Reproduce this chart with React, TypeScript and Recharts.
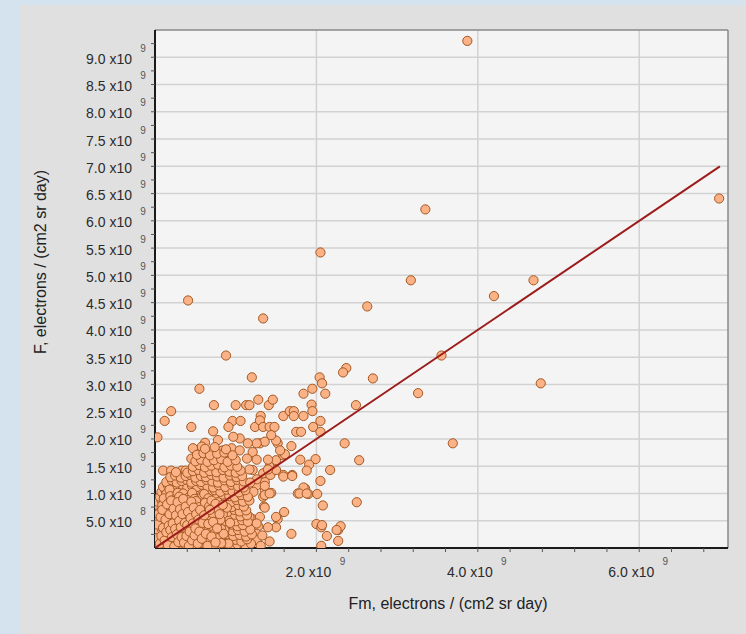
import React from 'react';
import { ScatterChart, Scatter, XAxis, YAxis, CartesianGrid, ReferenceLine } from 'recharts';

// Values are in units of 10^9 electrons / (cm2 sr day)
const OUTLIERS: [number, number][] = [
  [3.87, 9.30], [3.35, 6.21], [2.05, 5.42], [6.99, 6.41], [0.41, 4.54], [3.17, 4.91],
  [4.69, 4.91], [2.63, 4.43], [1.34, 4.21], [4.20, 4.62], [3.55, 3.53], [0.88, 3.53],
  [4.78, 3.02], [3.69, 1.92], [3.26, 2.84], [2.70, 3.11], [2.37, 3.30], [2.33, 3.22],
  [2.49, 2.62], [2.35, 1.92], [2.53, 1.61], [2.50, 0.84], [2.17, 1.43],
];

const MID_SCATTER: [number, number][] = [
  [0.55, 2.92], [0.20, 2.51], [0.12, 2.33], [0.03, 2.03], [0.45, 2.22], [0.73, 2.62], [0.72, 2.14],
  [0.62, 1.93], [0.58, 1.86], [0.47, 1.83], [0.45, 1.64], [0.10, 1.42], [0.20, 1.42], [0.33, 1.42],
  [0.38, 1.42], [1.20, 3.13], [1.00, 2.62], [1.13, 2.62], [1.17, 2.62], [1.28, 2.72], [1.41, 2.62],
  [1.46, 2.72], [1.84, 2.83], [1.95, 2.92], [2.04, 3.13], [2.07, 3.02], [2.11, 2.83], [1.94, 2.63],
  [1.95, 2.51], [1.59, 2.42], [1.67, 2.51], [1.72, 2.51], [1.72, 2.42], [1.84, 2.42], [1.31, 2.42],
  [0.96, 2.33], [1.06, 2.33], [0.91, 2.22], [1.24, 2.22], [1.30, 2.34], [1.34, 2.22], [1.42, 2.22],
  [1.48, 2.22], [1.96, 2.22], [2.05, 2.33], [2.05, 1.23], [2.08, 0.78], [1.99, 1.63], [1.91, 1.53],
  [1.88, 1.42], [1.80, 1.62], [1.77, 1.00], [1.86, 1.09], [1.90, 0.99], [2.01, 0.99], [2.00, 0.44],
  [2.06, 0.38], [2.13, 0.22], [2.27, 0.33], [2.30, 0.40], [2.27, 0.13], [2.06, 0.04], [1.69, 0.26],
  [1.60, 0.66], [1.52, 0.53], [1.50, 0.38], [1.40, 0.38], [1.42, 0.12], [1.28, 0.40], [1.21, 0.53],
  [1.26, 0.26], [1.17, 0.10], [1.09, 0.27], [1.30, 0.57], [1.35, 0.76], [1.34, 0.94], [1.36, 1.05],
  [1.44, 1.01], [1.36, 1.21], [1.34, 1.37], [1.43, 1.34], [1.59, 1.34], [1.70, 1.34], [1.42, 1.49],
  [1.50, 1.61], [1.59, 1.70], [1.69, 1.87], [1.52, 1.92], [1.75, 2.13], [1.81, 2.13], [2.05, 2.13],
  [1.30, 1.92], [1.21, 1.76], [1.21, 1.43], [1.26, 1.15], [1.22, 1.03], [1.14, 1.64], [1.26, 1.62],
  [1.40, 1.62], [1.61, 1.72], [1.50, 1.97], [1.44, 2.07], [1.36, 1.95], [1.26, 1.92], [1.15, 1.92],
  [1.05, 2.01], [0.97, 2.04], [0.95, 1.83], [1.05, 1.79], [0.84, 1.79], [0.78, 1.98], [1.55, 1.79],
  [0.95, 1.66], [1.50, 1.43], [1.40, 1.44], [1.17, 1.44], [1.26, 1.26], [1.84, 1.11], [1.79, 1.00],
  [1.88, 1.00], [1.59, 1.31], [1.70, 1.32], [2.25, 0.33], [2.07, 0.42], [1.50, 0.57], [1.26, 0.15],
  [1.17, 0.57], [1.26, 0.45], [1.36, 0.74], [1.36, 0.97], [1.42, 1.00], [1.36, 1.14],
];

const CORE_CLUSTER: [number, number][] = [
  [0.03, 0.04], [0.08, 0.07], [0.12, 0.03], [0.17, 0.06], [0.22, 0.08], [0.26, 0.04], [0.31, 0.07], [0.35, 0.03],
  [0.40, 0.06], [0.45, 0.09], [0.50, 0.04], [0.56, 0.07], [0.61, 0.05], [0.67, 0.08], [0.74, 0.03], [0.80, 0.06],
  [0.87, 0.09], [0.94, 0.04], [1.02, 0.07], [1.12, 0.05], [1.19, 0.08], [1.31, 0.04],
  [0.02, 0.13], [0.06, 0.16], [0.11, 0.12], [0.15, 0.15], [0.20, 0.17], [0.24, 0.12], [0.29, 0.15], [0.34, 0.13],
  [0.38, 0.17], [0.43, 0.14], [0.49, 0.12], [0.54, 0.16], [0.60, 0.13], [0.65, 0.17], [0.71, 0.14], [0.78, 0.12],
  [0.85, 0.16], [0.92, 0.13], [1.00, 0.15], [1.07, 0.12], [1.14, 0.16],
  [0.04, 0.22], [0.09, 0.25], [0.13, 0.21], [0.18, 0.24], [0.23, 0.26], [0.27, 0.21], [0.32, 0.24], [0.37, 0.22],
  [0.42, 0.26], [0.47, 0.23], [0.52, 0.21], [0.58, 0.25], [0.63, 0.22], [0.69, 0.26], [0.76, 0.23], [0.83, 0.21],
  [0.90, 0.25], [0.97, 0.22], [1.05, 0.24], [1.13, 0.21], [1.20, 0.25], [1.33, 0.23],
  [0.03, 0.31], [0.07, 0.34], [0.12, 0.30], [0.16, 0.33], [0.21, 0.35], [0.26, 0.30], [0.30, 0.33], [0.35, 0.31],
  [0.40, 0.35], [0.45, 0.32], [0.51, 0.30], [0.56, 0.34], [0.62, 0.31], [0.68, 0.35], [0.74, 0.32], [0.81, 0.30],
  [0.88, 0.34], [0.96, 0.31], [1.03, 0.33], [1.11, 0.30], [1.18, 0.34],
  [0.05, 0.40], [0.10, 0.43], [0.14, 0.39], [0.19, 0.42], [0.24, 0.44], [0.28, 0.39], [0.33, 0.42], [0.38, 0.40],
  [0.44, 0.44], [0.49, 0.41], [0.55, 0.39], [0.60, 0.43], [0.66, 0.40], [0.73, 0.44], [0.80, 0.41], [0.87, 0.39],
  [0.95, 0.43], [1.02, 0.40], [1.09, 0.42],
  [0.02, 0.49], [0.07, 0.52], [0.12, 0.48], [0.17, 0.51], [0.22, 0.53], [0.27, 0.48], [0.32, 0.51], [0.37, 0.49],
  [0.42, 0.53], [0.48, 0.50], [0.53, 0.48], [0.59, 0.52], [0.65, 0.49], [0.71, 0.53], [0.78, 0.50], [0.86, 0.48],
  [0.93, 0.52], [1.00, 0.49], [1.08, 0.51], [1.15, 0.48],
  [0.04, 0.58], [0.09, 0.61], [0.14, 0.57], [0.19, 0.60], [0.25, 0.62], [0.30, 0.57], [0.35, 0.60], [0.40, 0.58],
  [0.46, 0.62], [0.51, 0.59], [0.57, 0.57], [0.63, 0.61], [0.70, 0.58], [0.77, 0.62], [0.84, 0.59], [0.91, 0.57],
  [0.99, 0.61], [1.06, 0.58], [1.14, 0.60],
  [0.03, 0.67], [0.08, 0.70], [0.13, 0.66], [0.18, 0.69], [0.23, 0.71], [0.28, 0.66], [0.34, 0.69], [0.39, 0.67],
  [0.45, 0.71], [0.50, 0.68], [0.56, 0.66], [0.62, 0.70], [0.68, 0.67], [0.75, 0.71], [0.82, 0.68], [0.90, 0.66],
  [0.98, 0.70], [1.05, 0.67], [1.13, 0.69],
  [0.05, 0.76], [0.10, 0.79], [0.16, 0.75], [0.21, 0.78], [0.26, 0.80], [0.32, 0.75], [0.37, 0.78], [0.43, 0.76],
  [0.48, 0.80], [0.54, 0.77], [0.60, 0.75], [0.67, 0.79], [0.73, 0.76], [0.80, 0.80], [0.88, 0.77], [0.95, 0.75],
  [1.03, 0.79], [1.10, 0.76],
  [0.03, 0.85], [0.08, 0.88], [0.14, 0.84], [0.19, 0.87], [0.25, 0.89], [0.30, 0.84], [0.36, 0.87], [0.41, 0.85],
  [0.47, 0.89], [0.53, 0.86], [0.59, 0.84], [0.65, 0.88], [0.72, 0.85], [0.79, 0.89], [0.86, 0.86], [0.94, 0.84],
  [1.01, 0.88], [1.09, 0.85], [1.17, 0.87],
  [0.06, 0.94], [0.11, 0.97], [0.17, 0.93], [0.22, 0.96], [0.28, 0.98], [0.33, 0.93], [0.39, 0.96], [0.45, 0.94],
  [0.51, 0.98], [0.57, 0.95], [0.63, 0.93], [0.70, 0.97], [0.77, 0.94], [0.84, 0.98], [0.92, 0.95], [0.99, 0.93],
  [1.07, 0.97], [1.15, 0.94],
  [0.08, 1.03], [0.13, 1.06], [0.19, 1.02], [0.25, 1.05], [0.31, 1.07], [0.36, 1.02], [0.42, 1.05], [0.48, 1.03],
  [0.54, 1.07], [0.60, 1.04], [0.67, 1.02], [0.74, 1.06], [0.81, 1.03], [0.89, 1.07], [0.96, 1.04], [1.04, 1.02],
  [1.12, 1.06],
  [0.10, 1.12], [0.16, 1.15], [0.22, 1.11], [0.28, 1.14], [0.34, 1.16], [0.40, 1.11], [0.46, 1.14], [0.52, 1.12],
  [0.58, 1.16], [0.65, 1.13], [0.72, 1.11], [0.79, 1.15], [0.87, 1.12], [0.95, 1.16], [1.03, 1.13], [1.10, 1.11],
  [0.14, 1.21], [0.21, 1.24], [0.27, 1.20], [0.33, 1.23], [0.39, 1.25], [0.45, 1.20], [0.51, 1.23], [0.57, 1.21],
  [0.64, 1.25], [0.71, 1.22], [0.78, 1.20], [0.86, 1.24], [0.94, 1.21], [1.02, 1.25], [1.10, 1.22], [1.18, 1.20],
  [0.19, 1.30], [0.25, 1.33], [0.32, 1.29], [0.38, 1.32], [0.44, 1.34], [0.50, 1.29], [0.57, 1.32], [0.63, 1.30],
  [0.70, 1.34], [0.77, 1.31], [0.85, 1.29], [0.93, 1.33], [1.01, 1.30], [1.08, 1.32],
  [0.26, 1.39], [0.40, 1.38], [0.47, 1.41], [0.54, 1.43], [0.61, 1.38], [0.68, 1.41], [0.76, 1.39], [0.84, 1.43],
  [0.92, 1.40], [1.00, 1.38], [1.06, 1.42],
  [0.47, 1.49], [0.55, 1.52], [0.62, 1.48], [0.70, 1.51], [0.78, 1.53], [0.86, 1.48], [0.94, 1.51], [1.02, 1.49],
  [0.50, 1.59], [0.57, 1.62], [0.65, 1.58], [0.73, 1.61], [0.82, 1.63], [0.90, 1.58], [1.00, 1.61],
  [0.52, 1.71], [0.60, 1.74], [0.68, 1.70], [0.77, 1.73], [0.86, 1.75], [0.96, 1.70],
  [0.62, 1.82], [0.74, 1.85], [0.88, 1.81],
];

const ORIGIN_DENSE: [number, number][] = [
  [0.01, 0.02], [0.04, 0.10], [0.07, 0.02], [0.10, 0.19], [0.13, 0.08], [0.16, 0.27], [0.19, 0.11], [0.21, 0.37],
  [0.24, 0.18], [0.27, 0.46], [0.29, 0.27], [0.33, 0.55], [0.36, 0.19], [0.39, 0.64], [0.41, 0.28], [0.44, 0.73],
  [0.47, 0.36], [0.50, 0.82], [0.53, 0.45], [0.56, 0.91], [0.58, 0.25], [0.61, 0.99], [0.64, 0.54], [0.02, 0.28],
  [0.05, 0.47], [0.08, 0.63], [0.11, 0.81], [0.14, 0.99], [0.06, 0.37], [0.09, 0.55], [0.12, 0.72], [0.15, 0.90],
  [0.18, 1.07], [0.32, 0.08], [0.44, 0.03], [0.52, 0.11], [0.69, 0.36], [0.72, 0.22], [0.79, 0.57], [0.83, 0.44],
  [0.02, 0.07], [0.05, 0.19], [0.07, 0.29], [0.10, 0.06], [0.12, 0.39], [0.14, 0.18], [0.16, 0.47], [0.18, 0.03],
  [0.20, 0.29], [0.22, 0.57], [0.25, 0.09], [0.27, 0.36], [0.29, 0.64], [0.31, 0.19], [0.34, 0.47], [0.36, 0.73],
  [0.38, 0.27], [0.40, 0.52], [0.43, 0.10], [0.45, 0.61], [0.47, 0.19], [0.50, 0.71], [0.52, 0.31], [0.55, 0.82],
  [0.57, 0.44], [0.60, 0.08], [0.62, 0.64], [0.64, 0.36], [0.66, 0.91], [0.69, 0.48], [0.71, 0.12], [0.73, 0.67],
  [0.76, 0.30], [0.78, 0.84], [0.81, 0.19], [0.84, 0.62], [0.86, 0.33], [0.89, 0.74], [0.91, 0.08], [0.93, 0.46],
  [0.04, 0.53], [0.06, 0.66], [0.09, 0.78], [0.11, 0.91], [0.13, 0.60], [0.15, 0.71], [0.17, 0.83], [0.19, 0.95],
  [0.21, 0.68], [0.23, 0.80], [0.26, 0.92], [0.28, 1.01], [0.30, 0.77], [0.33, 0.88], [0.35, 1.00], [0.37, 0.84],
  [0.42, 0.93], [0.46, 1.01], [0.49, 0.90], [0.03, 0.15], [0.06, 0.25], [0.08, 0.44], [0.11, 0.26], [0.15, 0.36],
  [0.18, 0.16], [0.23, 0.15], [0.34, 0.36], [0.41, 0.44], [0.46, 0.27], [0.54, 0.23], [0.59, 0.35], [0.67, 0.28],
  [0.74, 0.50], [0.82, 0.35],
];

const ORIGIN_DENSE_2: [number, number][] = [
  [0.01, 0.11], [0.03, 0.20], [0.04, 0.33], [0.05, 0.05], [0.07, 0.41], [0.08, 0.14], [0.09, 0.33], [0.10, 0.51],
  [0.11, 0.03], [0.12, 0.22], [0.13, 0.45], [0.14, 0.65], [0.15, 0.10], [0.16, 0.39], [0.17, 0.58], [0.18, 0.78],
  [0.19, 0.24], [0.20, 0.46], [0.21, 0.06], [0.22, 0.66], [0.23, 0.33], [0.24, 0.86], [0.25, 0.52], [0.26, 0.14],
  [0.27, 0.74], [0.28, 0.22], [0.29, 0.45], [0.30, 0.94], [0.31, 0.62], [0.32, 0.30], [0.33, 0.13], [0.34, 0.79],
  [0.35, 0.40], [0.36, 0.55], [0.37, 0.07], [0.38, 0.70], [0.39, 0.34], [0.40, 0.88], [0.41, 0.17], [0.42, 0.60],
  [0.43, 0.38], [0.44, 0.80], [0.45, 0.22], [0.46, 0.49], [0.47, 0.68], [0.48, 0.05], [0.49, 0.31], [0.50, 0.57],
  [0.51, 0.86], [0.52, 0.16], [0.53, 0.64], [0.54, 0.40], [0.55, 0.75], [0.56, 0.28], [0.57, 0.51], [0.58, 0.09],
  [0.59, 0.70], [0.60, 0.41], [0.61, 0.20], [0.62, 0.83], [0.63, 0.47], [0.64, 0.11], [0.65, 0.63], [0.66, 0.32],
  [0.67, 0.76], [0.68, 0.16], [0.69, 0.55], [0.70, 0.87], [0.71, 0.40], [0.72, 0.63], [0.73, 0.05], [0.74, 0.27],
  [0.75, 0.81], [0.77, 0.45], [0.78, 0.18], [0.79, 0.69], [0.81, 0.52], [0.82, 0.09], [0.84, 0.79], [0.85, 0.26],
];

const ORIGIN_DENSE_3: [number, number][] = [
  [0.02, 0.18], [0.03, 0.43], [0.04, 0.62], [0.06, 0.08], [0.07, 0.57], [0.08, 0.22], [0.09, 0.70], [0.10, 0.37],
  [0.12, 0.14], [0.13, 0.52], [0.14, 0.29], [0.15, 0.80], [0.16, 0.05], [0.17, 0.41], [0.18, 0.62], [0.19, 0.33],
  [0.20, 0.87], [0.21, 0.20], [0.22, 0.45], [0.23, 0.72], [0.24, 0.03], [0.25, 0.35], [0.26, 0.60], [0.27, 0.25],
  [0.28, 0.84], [0.29, 0.11], [0.30, 0.50], [0.31, 0.71], [0.32, 0.38], [0.33, 0.20], [0.34, 0.62], [0.35, 0.90],
  [0.36, 0.10], [0.37, 0.46], [0.38, 0.76], [0.39, 0.22], [0.40, 0.42], [0.41, 0.66], [0.42, 0.04], [0.43, 0.30],
  [0.44, 0.55], [0.45, 0.85], [0.46, 0.14], [0.47, 0.45], [0.48, 0.74], [0.49, 0.23], [0.50, 0.36], [0.51, 0.62],
  [0.53, 0.08], [0.54, 0.52], [0.55, 0.30], [0.56, 0.70], [0.58, 0.17], [0.59, 0.46], [0.61, 0.60], [0.63, 0.26],
  [0.65, 0.04], [0.66, 0.44], [0.68, 0.70], [0.70, 0.21], [0.72, 0.48], [0.75, 0.10], [0.77, 0.36], [0.80, 0.62],
];

// Regression line endpoints (F = Fm)
const FIT_LINE: [number, number][] = [[0, 0], [7.0, 7.0]];

const X_TICKS = [0.4, 0.8, 1.2, 1.6, 2.0, 2.4, 2.8, 3.2, 3.6, 4.0, 4.4, 4.8, 5.2, 5.6, 6.0, 6.4, 6.8];
const X_LABELED = [2.0, 4.0, 6.0];
const Y_TICKS = [0.25, 0.5, 0.75, 1.0, 1.25, 1.5, 1.75, 2.0, 2.25, 2.5, 2.75, 3.0, 3.25, 3.5, 3.75, 4.0, 4.25,
  4.5, 4.75, 5.0, 5.25, 5.5, 5.75, 6.0, 6.25, 6.5, 6.75, 7.0, 7.25, 7.5, 7.75, 8.0, 8.25, 8.5, 8.75, 9.0, 9.25];
const Y_LABELED = [0.5, 1.0, 1.5, 2.0, 2.5, 3.0, 3.5, 4.0, 4.5, 5.0, 5.5, 6.0, 6.5, 7.0, 7.5, 8.0, 8.5, 9.0];

const X_TITLE = 'Fm, electrons / (cm2 sr day)';
const Y_TITLE = 'F, electrons / (cm2 sr day)';

const X_MAX = 7.1;
const Y_MAX = 9.5;

const toPoints = (arr: [number, number][]) => arr.map(([x, y]) => ({ x, y }));
const allPoints = [
  ...toPoints(MID_SCATTER),
  ...toPoints(OUTLIERS),
  ...toPoints(CORE_CLUSTER),
  ...toPoints(ORIGIN_DENSE),
  ...toPoints(ORIGIN_DENSE_2),
  ...toPoints(ORIGIN_DENSE_3),
];
const fitPoints = toPoints(FIT_LINE);

const FONT = '"Liberation Sans", Arial, Helvetica, sans-serif';

const sciParts = (v: number): [string, string] => {
  if (v >= 1) return [v.toFixed(1) + ' x10', '9'];
  return [(v * 10).toFixed(1) + ' x10', '8'];
};

const isIn = (list: number[], v: number) => list.some((t) => Math.abs(t - v) < 1e-6);

const YTick = (props: any) => {
  const { x, y, payload } = props;
  const v = payload.value;
  const labeled = isIn(Y_LABELED, v);
  const [main, exp] = sciParts(v);
  return (
    <g>
      <line x1={x - 4} y1={y} x2={x} y2={y} stroke="#555" strokeWidth={1} />
      {labeled && (
        <>
          <text x={x - 23} y={y + 6.5} textAnchor="end" fontSize={14} fill="#2b2b2b" fontFamily={FONT}>{main}</text>
          <text x={x - 12} y={y - 5.5} textAnchor="middle" fontSize={10} fill="#555" fontFamily={FONT}>{exp}</text>
        </>
      )}
    </g>
  );
};

const XTick = (props: any) => {
  const { x, y, payload } = props;
  const v = payload.value;
  const labeled = isIn(X_LABELED, v);
  const [main, exp] = sciParts(v);
  return (
    <g>
      <line x1={x} y1={y} x2={x} y2={y + 4} stroke="#555" strokeWidth={1} />
      {labeled && (
        <>
          <text x={x + 15} y={y + 28.5} textAnchor="end" fontSize={14} fill="#2b2b2b" fontFamily={FONT}>{main}</text>
          <text x={x + 26} y={y + 17} textAnchor="middle" fontSize={10} fill="#555" fontFamily={FONT}>{exp}</text>
        </>
      )}
    </g>
  );
};

const Dot = (props: any) => {
  const { cx, cy } = props;
  if (cx == null || cy == null) return <g />;
  return <circle cx={cx} cy={cy} r={4.6} fill="#fbb286" stroke="#a35822" strokeWidth={1} />;
};

export default function App() {
  return (
    <div style={{ position: 'absolute', left: 0, top: 0, width: 746, height: 634, background: '#d5e3ee', overflow: 'hidden' }}>
      <div style={{ position: 'absolute', left: 19, top: 5, width: 727, height: 629, background: '#e0e0e0' }} />
      <div style={{ position: 'absolute', left: 0, top: 0 }}>
        <ScatterChart width={746} height={634} margin={{ top: 30, right: 18, bottom: 56, left: 0 }}>
          <CartesianGrid
            fill="#f4f4f4"
            stroke="#d2d2d2"
            strokeWidth={1.5}
            horizontalValues={Y_LABELED}
            verticalValues={X_LABELED}
          />
          <XAxis
            type="number"
            dataKey="x"
            domain={[0, X_MAX]}
            ticks={X_TICKS}
            interval={0}
            tick={<XTick />}
            tickSize={0}
            tickMargin={0}
            tickLine={false}
            height={30}
            allowDataOverflow
            axisLine={{ stroke: '#1a1a1a', strokeWidth: 2 }}
            label={{
              content: () => (
                <text x={448} y={603} textAnchor="middle" dominantBaseline="central" fontSize={16} fill="#222" fontFamily={FONT}>{X_TITLE}</text>
              ),
            }}
          />
          <YAxis
            type="number"
            dataKey="y"
            domain={[0, Y_MAX]}
            ticks={Y_TICKS}
            interval={0}
            tick={<YTick />}
            tickSize={0}
            tickMargin={0}
            tickLine={false}
            width={155}
            allowDataOverflow
            axisLine={{ stroke: '#1a1a1a', strokeWidth: 2 }}
            label={{
              content: () => (
                <text x={40} y={262} transform="rotate(-90 40 262)" textAnchor="middle" dominantBaseline="central" fontSize={16} fill="#222" fontFamily={FONT}>{Y_TITLE}</text>
              ),
            }}
          />
          <ReferenceLine y={Y_MAX} stroke="#8a8a8a" strokeWidth={1.5} />
          <ReferenceLine x={X_MAX} stroke="#8a8a8a" strokeWidth={1.5} />
          <Scatter data={allPoints} shape={<Dot />} isAnimationActive={false} />
          <Scatter
            data={fitPoints}
            line={{ stroke: '#9c1c1c', strokeWidth: 2 }}
            shape={() => <g />}
            isAnimationActive={false}
          />
        </ScatterChart>
      </div>
    </div>
  );
}
